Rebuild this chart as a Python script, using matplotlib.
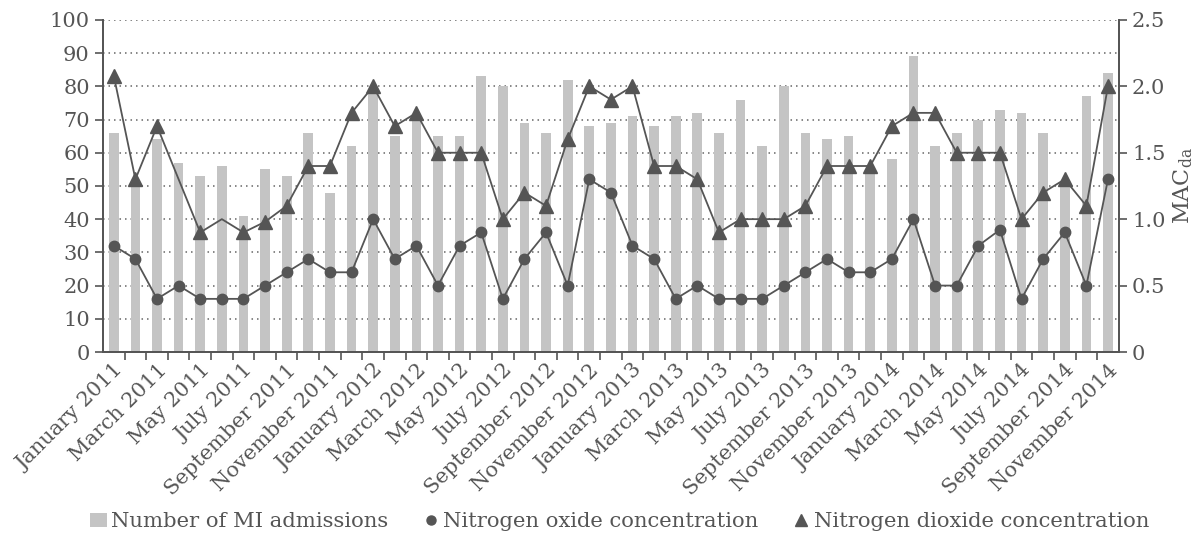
import matplotlib
matplotlib.use("Agg")
import matplotlib.pyplot as plt
from matplotlib.lines import Line2D
import numpy as np

plt.rcParams['font.family'] = ['DejaVu Serif']
plt.rcParams['mathtext.fontset'] = 'dejavuserif'

months = ['January', 'February', 'March', 'April', 'May', 'June', 'July',
          'August', 'September', 'October', 'November', 'December']
labels = [f'{m} {y}' for y in (2011, 2012, 2013, 2014) for m in months][:47]

# number of MI admissions (left axis)
admissions = [66, 51, 64, 57, 53, 56, 41, 55, 53, 66, 48, 62,
              78, 65, 70, 65, 65, 83, 80, 69, 66, 82, 68, 69,
              71, 68, 71, 72, 66, 76, 62, 80, 66, 64, 65, 55,
              58, 89, 62, 66, 70, 73, 72, 66, 51, 77, 84]

# nitrogen oxide, MAC_da (right axis)
no_conc = [0.8, 0.7, 0.4, 0.5, 0.4, 0.4, 0.4, 0.5, 0.6, 0.7, 0.6, 0.6,
           1.0, 0.7, 0.8, 0.5, 0.8, 0.9, 0.4, 0.7, 0.9, 0.5, 1.3, 1.2,
           0.8, 0.7, 0.4, 0.5, 0.4, 0.4, 0.4, 0.5, 0.6, 0.7, 0.6, 0.6,
           0.7, 1.0, 0.5, 0.5, 0.8, 0.92, 0.4, 0.7, 0.9, 0.5, 1.3]

# nitrogen dioxide, MAC_da (right axis)
no2_conc = [2.08, 1.3, 1.7, 1.3, 0.9, 1.0, 0.9, 0.98, 1.1, 1.4, 1.4, 1.8,
            2.0, 1.7, 1.8, 1.5, 1.5, 1.5, 1.0, 1.2, 1.1, 1.6, 2.0, 1.9,
            2.0, 1.4, 1.4, 1.3, 0.9, 1.0, 1.0, 1.0, 1.1, 1.4, 1.4, 1.4,
            1.7, 1.8, 1.8, 1.5, 1.5, 1.5, 1.0, 1.2, 1.3, 1.1, 2.0]
# months where the triangle marker is not drawn
no2_unmarked = [3, 5]

dark = '#555555'
bar_col = '#c4c4c4'
fs = 15
x = np.arange(len(labels))

fig = plt.figure(figsize=(12.03, 5.37), dpi=100)
ax = fig.add_axes([0.0856, 0.3445, 0.8444, 0.6185])
ax2 = ax.twinx()

ax.set_axisbelow(True)
ax.yaxis.grid(True, color='#666666', linestyle=(0, (1, 2.6)), linewidth=1.1)
bars = ax.bar(x, admissions, width=0.45, color=bar_col, zorder=2)

marked = [i for i in range(len(x)) if i not in no2_unmarked]
ax2.plot(x, no_conc, color=dark, lw=1.3, marker='o', ms=7.5)
ax2.plot(x, no2_conc, color=dark, lw=1.3, marker='^', ms=10, markevery=marked)

ax.set_xlim(-0.5, len(x) - 0.5)
ax.set_ylim(0, 100)
ax.set_yticks(range(0, 101, 10))
ax2.set_ylim(0, 2.5)
ax2.set_yticks([0, 0.5, 1.0, 1.5, 2.0, 2.5])
ax2.set_yticklabels(['0', '0.5', '1.0', '1.5', '2.0', '2.5'])
ax2.set_ylabel('MAC$_{\\mathrm{da}}$', fontsize=16, color=dark, labelpad=4)

ax.set_xticks(x[::2])
ax.set_xticklabels(labels[::2], rotation=45, ha='right',
                   rotation_mode='anchor', fontsize=fs, color=dark)
ax.set_xticks(np.arange(0.5, len(x) - 0.5, 1), minor=True)
ax.tick_params(axis='x', which='major', length=0, pad=6)
ax.tick_params(axis='x', which='minor', length=6, width=1.2, color=dark)
ax.tick_params(axis='y', length=6, width=1.2, color=dark, labelsize=fs,
               labelcolor=dark)
ax2.tick_params(axis='y', length=6, width=1.2, color=dark, labelsize=fs,
                labelcolor=dark)

for a in (ax, ax2):
    a.spines['top'].set_visible(False)
    for s in ('left', 'right', 'bottom'):
        a.spines[s].set_color(dark)
        a.spines[s].set_linewidth(1.3)

h_no = Line2D([], [], color=dark, marker='o', ls='none', ms=6.5)
h_no2 = Line2D([], [], color=dark, marker='^', ms=8.5, ls='none')
fig.legend([bars, h_no, h_no2],
           ['Number of MI admissions', 'Nitrogen oxide concentration',
            'Nitrogen dioxide concentration'],
           loc='center', bbox_to_anchor=(0.515, 0.028), ncol=3, frameon=False,
           fontsize=15.2, handlelength=0.8, handletextpad=0.2,
           columnspacing=1.6, labelcolor=dark)

fig.savefig('out.png', dpi=100)
